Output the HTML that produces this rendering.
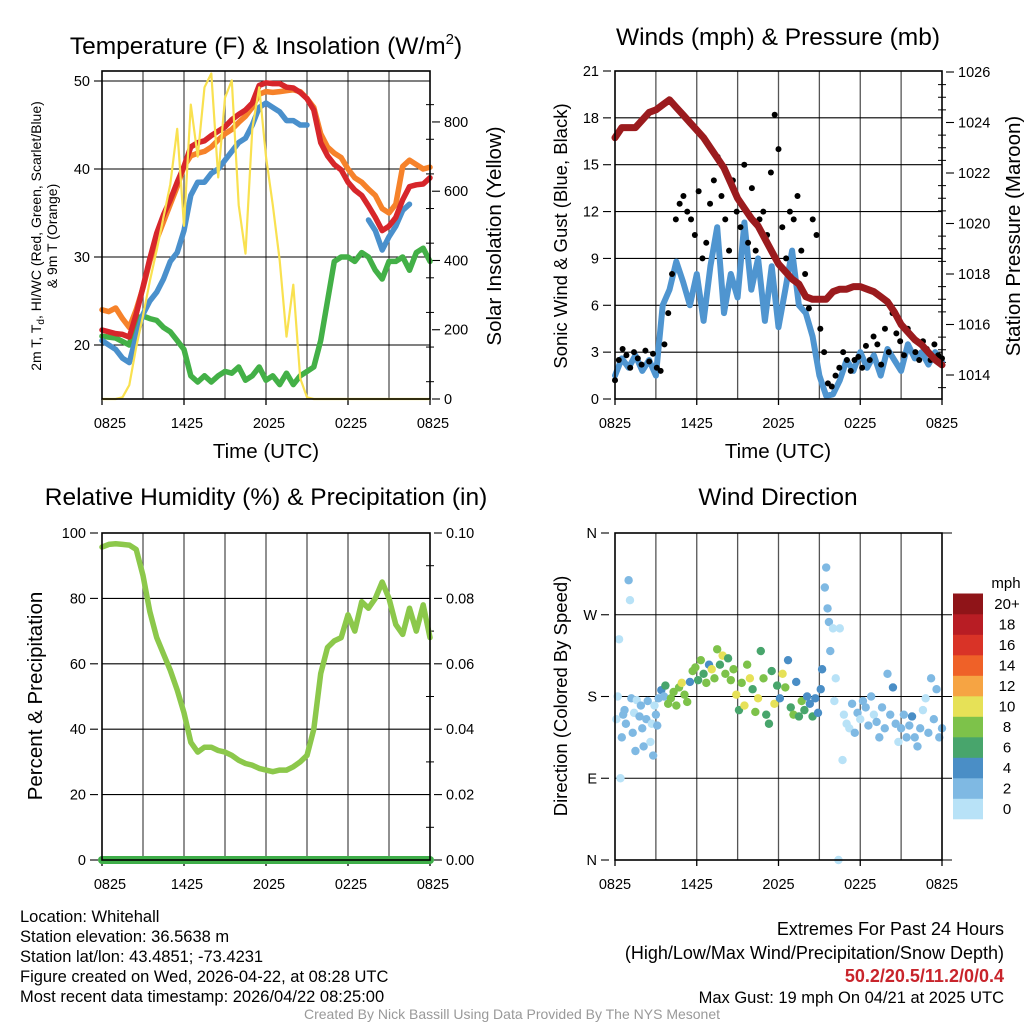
<!DOCTYPE html>
<html><head><meta charset="utf-8"><style>
html,body{margin:0;padding:0;background:#fff;}
svg{display:block;font-family:"Liberation Sans",sans-serif;}
</style></head><body>
<svg id="fig" width="1024" height="1024" viewBox="0 0 1024 1024">
<g font-size="24.5" text-anchor="middle" fill="#000">
<text x="266" y="54">Temperature (F) &amp; Insolation (W/m<tspan font-size="15" dy="-10">2</tspan><tspan dy="10">)</tspan></text>
<text x="778" y="45">Winds (mph) &amp; Pressure (mb)</text>
<text x="266" y="505">Relative Humidity (%) &amp; Precipitation (in)</text>
<text x="778" y="505">Wind Direction</text>
</g>
<g font-size="20.5" text-anchor="middle">
<text x="266" y="458">Time (UTC)</text>
<text x="778" y="458">Time (UTC)</text>
<text transform="translate(41,236) rotate(-90)" font-size="14">2m T, T<tspan font-size="10" dy="3">d</tspan><tspan dy="-3">, HI/WC (Red, Green, Scarlet/Blue)</tspan></text>
<text transform="translate(57,236) rotate(-90)" font-size="14">&amp; 9m T (Orange)</text>
<text transform="translate(501,236) rotate(-90)">Solar Insolation (Yellow)</text>
<text transform="translate(567,236) rotate(-90)" font-size="18.5">Sonic Wind &amp; Gust (Blue, Black)</text>
<text transform="translate(1020,236) rotate(-90)">Station Pressure (Maroon)</text>
<text transform="translate(42,696) rotate(-90)">Percent &amp; Precipitation</text>
<text transform="translate(567,696) rotate(-90)" font-size="18.5">Direction (Colored By Speed)</text>
</g>
<g font-size="16.5">
<text x="20" y="922">Location: Whitehall</text>
<text x="20" y="942">Station elevation: 36.5638 m</text>
<text x="20" y="962">Station lat/lon: 43.4851; -73.4231</text>
<text x="20" y="982">Figure created on Wed, 2026-04-22, at 08:28 UTC</text>
<text x="20" y="1002">Most recent data timestamp: 2026/04/22 08:25:00</text>
</g>
<g font-size="18" text-anchor="end">
<text x="1004" y="935">Extremes For Past 24 Hours</text>
<text x="1004" y="959">(High/Low/Max Wind/Precipitation/Snow Depth)</text>
<text x="1004" y="982" fill="#c8242b" font-weight="bold">50.2/20.5/11.2/0/0.4</text>
<text x="1004" y="1003" font-size="16.5">Max Gust: 19 mph On 04/21 at 2025 UTC</text>
</g>
<text x="512" y="1019" font-size="14" fill="#999" text-anchor="middle">Created By Nick Bassill Using Data Provided By The NYS Mesonet</text>
</svg>
<script>
const hours = [];
for (let i = 0; i <= 48; i++) hours.push(i * 0.5);
const xTickLabels = ['0825','1425','2025','0225','0825'];
const tempTicks = [20,30,40,50];
const solarTicks = [0,200,400,600,800];
const windTicks = [0,3,6,9,12,15,18,21];
const presTicks = [1014,1016,1018,1020,1022,1024,1026];
const rhTicks = [0,20,40,60,80,100];
const precipTicks = ['0.00','0.02','0.04','0.06','0.08','0.10'];
const dirTicks = ['N','E','S','W','N'];
const speedLabels = ['0','2','4','6','8','10','12','14','16','18','20+'];

const tempRed = [21.7,21.5,21.3,21.2,20.9,23.5,26.6,29.8,32.7,34.8,36.5,38.5,40.3,42.5,43.0,43.2,43.8,44.3,44.8,45.6,46.2,46.7,47.5,49.5,49.8,49.7,49.7,49.3,49.2,48.7,48.0,46.7,43.0,41.5,40.5,39.9,38.5,37.6,37.0,35.8,34.5,33.0,33.5,34.5,36.5,38.0,38.2,38.3,39.0];
const temp9m = [24.0,23.8,24.2,23.0,22.0,24.0,26.5,29.5,32.0,34.0,36.0,38.0,40.3,41.5,41.8,42.0,42.5,43.3,44.0,44.5,45.3,46.0,47.0,48.5,48.8,48.7,48.8,48.9,49.0,48.8,48.0,47.0,44.0,42.5,41.8,41.3,40.0,39.0,38.5,37.7,37.0,35.5,35.0,36.0,40.3,41.0,40.5,40.0,40.2];
const windChill = [20.5,20.0,19.5,18.5,18.0,21.0,23.5,25.0,26.0,27.5,29.5,30.5,33.0,37.0,38.5,38.5,39.5,40.0,41.0,42.0,43.0,43.5,45.0,47.0,47.5,47.0,46.5,45.5,45.5,45.0,45.0,null,null,null,null,null,null,null,null,34.2,33.0,30.8,32.3,33.5,35.3,36.0,null,36.8,null];
const dewPoint = [21.0,20.9,20.8,20.4,20.0,23.0,23.3,23.0,22.8,22.0,21.5,20.5,19.5,16.5,15.8,16.5,15.8,16.5,17.0,16.8,17.5,16.0,16.5,17.5,16.0,16.5,15.5,16.8,15.5,16.5,17.0,17.5,20.5,25.0,29.5,30.0,30.0,29.5,30.5,30.0,28.5,27.5,29.5,29.5,30.0,28.5,30.5,31.0,29.5];
const solar = [0,0,0,5,40,150,240,340,430,525,620,780,500,850,700,900,940,640,870,920,560,420,780,900,700,560,400,180,330,60,5,0,0,0,0,0,0,0,0,0,0,0,0,0,0,0,0,0,0];

const windSpeed = [1.5,2.6,2.0,2.8,1.8,2.5,1.5,6.0,7.0,8.8,7.5,6.0,8.0,5.0,8.5,11.0,5.5,8.0,6.5,11.3,7.0,9.0,5.0,8.5,4.6,7.0,9.5,6.0,5.5,4.0,1.5,0.2,0.3,1.2,2.5,1.8,3.0,2.0,2.8,1.5,3.2,2.5,1.8,3.5,2.6,3.0,2.2,3.0,2.4];
const gusts = [1.2,2.5,3.2,2.8,2.0,3.0,2.6,2.2,3.1,2.4,2.9,2.0,1.8,3.5,5.5,8.0,11.5,12.5,13.0,12.0,11.5,10.5,13.3,9.0,10.0,12.5,14.0,15.5,13.0,11.5,9.5,14.0,12.0,11.0,15.0,10.0,13.5,9.5,11.5,12.0,10.5,14.5,18.2,16.0,11.0,9.0,12.0,11.5,13.0,9.5,8.0,5.8,11.5,10.5,4.5,3.0,1.0,0.8,1.5,2.0,3.0,2.5,1.8,2.5,2.7,2.0,3.4,2.5,4.0,3.5,2.2,4.5,3.0,5.5,4.2,3.7,2.8,4.5,4.0,3.0,2.5,3.7,3.2,2.5,3.5,2.8,2.6];
const pressure = [1023.4,1023.8,1023.8,1023.8,1024.1,1024.4,1024.5,1024.7,1024.9,1024.6,1024.3,1024.0,1023.7,1023.4,1023.0,1022.6,1022.2,1021.6,1021.0,1020.6,1020.2,1019.9,1019.4,1018.9,1018.4,1018.1,1017.8,1017.6,1017.1,1017.0,1017.0,1017.0,1017.3,1017.4,1017.4,1017.5,1017.5,1017.4,1017.3,1017.1,1016.9,1016.5,1016.0,1015.7,1015.4,1015.2,1014.9,1014.6,1014.4];

const humidity = [95.7,96.5,96.7,96.5,96.3,95,87,76,68,63,58,52,45,36,33,34.5,34.5,33.5,33,32,30.5,29.5,29,28,27.5,27,27.5,27.5,28.5,30,32,40,57,65,67,68,75,70,79,77,80,85,80,72,69,77,70,78,68];
const precip = [0,0,0,0,0,0,0,0,0,0,0,0,0,0,0,0,0,0,0,0,0,0,0,0,0,0,0,0,0,0,0,0,0,0,0,0,0,0,0,0,0,0,0,0,0,0,0,0,0];

const dirHour = [0.1,0.2,0.3,0.4,0.5,0.6,0.7,0.8,1.0,1.1,1.2,1.3,1.4,1.5,1.6,1.8,1.9,2.0,2.1,2.3,2.4,2.6,2.7,2.8,2.9,3.0,3.1,3.2,3.4,3.6,3.7,3.9,4.1,4.3,4.5,4.7,4.9,5.1,5.3,5.5,5.7,5.9,6.1,6.3,6.5,6.7,6.9,7.1,7.3,7.5,7.7,7.9,8.1,8.3,8.5,8.7,8.9,9.1,9.3,9.5,9.7,9.9,10.1,10.3,10.5,10.7,10.9,11.1,11.3,11.5,11.7,11.9,12.1,12.3,12.5,12.7,12.9,13.1,13.3,13.5,13.7,13.9,14.1,14.3,14.5,14.7,14.9,15.1,15.2,15.4,15.5,15.6,15.7,15.8,16.0,16.1,16.2,16.4,16.5,16.7,16.8,17.0,17.2,17.4,17.6,17.8,18.0,18.2,18.4,18.6,18.8,19.0,19.2,19.4,19.6,19.8,20.0,20.2,20.4,20.6,20.8,21.0,21.2,21.4,21.6,21.8,22.0,22.2,22.4,22.6,22.8,23.0,23.2,23.4,23.6,23.8,24.0];
const dirDeg = [155,180,243,90,135,160,165,150,308,286,178,140,162,120,176,158,170,145,125,155,175,130,150,115,170,160,148,178,187,180,192,172,178,185,170,190,195,182,174,196,208,212,198,220,205,195,215,210,200,232,215,225,205,222,198,210,182,165,195,170,215,200,188,163,178,230,200,160,150,208,172,192,178,205,190,220,168,160,196,158,175,165,180,172,158,178,162,188,210,300,322,277,262,230,255,175,200,0,255,110,160,150,145,172,140,162,155,175,168,148,180,160,152,135,168,145,205,160,190,150,130,145,160,135,148,158,135,125,145,165,178,140,200,155,188,135,145];
const dirSpeed = [1,1,0,0,2,2,2,3,3,0,2,2,1,2,1,2,2,2,2,2,2,1,1,2,1,2,2,2,4,3,6,8,8,8,8,8,10,8,8,4,8,8,6,8,6,8,4,10,8,8,6,10,8,6,8,8,10,6,8,10,8,10,6,8,10,6,8,6,6,6,10,6,4,10,8,4,6,8,4,6,8,6,4,4,6,4,4,4,4,2,2,2,2,2,1,1,1,1,0,0,1,1,0,2,2,2,1,2,2,2,2,1,2,2,2,2,2,2,4,2,1,2,2,3,2,4,3,2,2,0,0,2,2,2,2,2,2];
const speedColors = ['#b8e2f7','#7fb9e3','#4a8ec6','#48a56c','#7dc24a','#e6e157','#f6a443','#ef6128','#d93327','#b81d24','#8f1418'];

const NS = 'http://www.w3.org/2000/svg';
const svg = document.getElementById('fig');
function mk(parent, tag, attrs, name) {
  const el = document.createElementNS(NS, tag);
  for (const k in attrs) el.setAttribute(k, attrs[k]);
  
  
  parent.appendChild(el);
  return el;
}
function pathD(xsArr, vals, xf, yf) {
  let d = '', pen = false;
  vals.forEach((v, i) => {
    if (v === null) { pen = false; return; }
    d += (pen ? 'L' : 'M') + xf(xsArr[i]).toFixed(1) + ' ' + yf(v).toFixed(1);
    pen = true;
  });
  return d;
}
function frame(x0, y0, w, h, name, shifted) {
  const g = mk(svg, 'g', {}, name);
  for (let i = 1; i < 8; i++) {
    const x = x0 + w * i / 8;
    mk(g, 'line', {x1:x, y1:y0, x2:x, y2:y0+h, stroke:'#555', 'stroke-width':1.3}, 'x-gridline');
  }
  for (let i = 0; i < 5; i++) {
    const x = x0 + w * i / 4;
    mk(g, 'line', {x1:x, y1:y0+h, x2:x, y2:y0+h+6, stroke:'#000', 'stroke-width':1.3}, 'x-tick');
    let lx = x;
    if (shifted) lx = i === 0 ? x0 + 8 : x + 3;
    const t = mk(g, 'text', {x: lx, y: y0 + h + 29, 'font-size':14.5, 'text-anchor':'middle'}, 'x-tick-label');
    t.textContent = xTickLabels[i];
  }
  return g;
}
function box(g, x0, y0, w, h) {
  mk(g, 'rect', {x:x0, y:y0, width:w, height:h, fill:'none', stroke:'#000', 'stroke-width':1.6}, 'plot-frame');
}
function hgrid(g, x0, w, y) {
  mk(g, 'line', {x1:x0, y1:y, x2:x0+w, y2:y, stroke:'#000', 'stroke-width':1.1}, 'y-gridline');
}
function yLabel(g, x, y, txt, anchor, name) {
  mk(g, 'line', {x1: anchor === 'end' ? x + 4 : x - 12, y1:y, x2: anchor === 'end' ? x + 12 : x - 4, y2:y, stroke:'#000', 'stroke-width':1.1}, name + '-tick');
  const t = mk(g, 'text', {x:x, y:y+5, 'font-size':14.5, 'text-anchor':anchor}, name);
  t.textContent = txt;
}
function minor(g, x, y) {
  mk(g, 'line', {x1:x-4, y1:y, x2:x+4, y2:y, stroke:'#000', 'stroke-width':1}, 'minor-tick');
}

// Panel 1
const P1 = {x:102, y:71, w:328, h:328};
const x1 = h => P1.x + h * P1.w / 24;
const yT = v => 81 + (50 - v) * 8.8;
const yS = v => 399 - v * 0.3463;
let g = frame(P1.x, P1.y, P1.w, P1.h, 'temperature-panel', true);
tempTicks.forEach(v => { hgrid(g, P1.x, P1.w, yT(v)); yLabel(g, P1.x - 12, yT(v), String(v), 'end', 'temp-tick-label'); });
solarTicks.forEach(v => yLabel(g, P1.x + P1.w + 14, yS(v), String(v), 'start', 'solar-tick-label'));
for (let v = 50; v < 900; v += 100) if (v % 200) minor(g, P1.x + P1.w, yS(v));
mk(g, 'path', {d:pathD(hours, dewPoint, x1, yT), fill:'none', stroke:'#43b047', 'stroke-width':5.5, 'stroke-linejoin':'round', 'stroke-linecap':'round'}, 'dewpoint-line');
mk(g, 'path', {d:pathD(hours, windChill, x1, yT), fill:'none', stroke:'#4a90cc', 'stroke-width':5.5, 'stroke-linejoin':'round', 'stroke-linecap':'round'}, 'windchill-line');
mk(g, 'path', {d:pathD(hours, temp9m, x1, yT), fill:'none', stroke:'#f6822a', 'stroke-width':5.5, 'stroke-linejoin':'round', 'stroke-linecap':'round'}, 'temp-9m-line');
mk(g, 'path', {d:pathD(hours, tempRed, x1, yT), fill:'none', stroke:'#d7262b', 'stroke-width':5.5, 'stroke-linejoin':'round', 'stroke-linecap':'round'}, 'temp-2m-line');
mk(g, 'path', {d:pathD(hours, solar, x1, yS), fill:'none', stroke:'#f9e150', 'stroke-width':2.2, 'stroke-linejoin':'round'}, 'solar-line');
box(g, P1.x, P1.y, P1.w, P1.h);

// Panel 2
const P2 = {x:615, y:71, w:327, h:328};
const x2 = h => P2.x + h * P2.w / 24;
const yW = v => 399 - v * 328 / 21;
const yP = p => 72 + (1026 - p) * 25.25;
g = frame(P2.x, P2.y, P2.w, P2.h, 'wind-panel', false);
windTicks.forEach(v => { hgrid(g, P2.x, P2.w, yW(v)); yLabel(g, P2.x - 16, yW(v), String(v), 'end', 'wind-tick-label'); });
presTicks.forEach(v => yLabel(g, P2.x + P2.w + 16, yP(v), String(v), 'start', 'pressure-tick-label'));
for (let p = 1013.5; p < 1026; p += 0.5) if ((p * 2) % 4) minor(g, P2.x + P2.w, yP(p));
mk(g, 'path', {d:pathD(hours, windSpeed, x2, yW), fill:'none', stroke:'#4f95d0', 'stroke-width':6, 'stroke-linejoin':'round', 'stroke-linecap':'round'}, 'wind-speed-line');
gusts.forEach((v, i) => {
  mk(g, 'circle', {cx:x2(i * 24 / (gusts.length - 1)), cy:yW(v), r:3, fill:'#000'}, 'gust-point');
});
mk(g, 'path', {d:pathD(hours, pressure, x2, yP), fill:'none', stroke:'#9b1b1e', 'stroke-width':7, 'stroke-linejoin':'round', 'stroke-linecap':'round'}, 'pressure-line');
box(g, P2.x, P2.y, P2.w, P2.h);

// Panel 3
const P3 = {x:102, y:533, w:328, h:327};
const yRH = v => 860 - v * 3.27;
const yPr = v => 860 - v * 3270;
g = frame(P3.x, P3.y, P3.w, P3.h, 'humidity-panel', true);
rhTicks.forEach(v => { hgrid(g, P3.x, P3.w, yRH(v)); yLabel(g, P3.x - 16, yRH(v), String(v), 'end', 'rh-tick-label'); });
precipTicks.forEach(v => yLabel(g, P3.x + P3.w + 16, yPr(parseFloat(v)), v, 'start', 'precip-tick-label'));
for (let v = 0.01; v < 0.1; v += 0.02) minor(g, P3.x + P3.w, yPr(v));
mk(g, 'path', {d:pathD(hours, humidity, x1, yRH), fill:'none', stroke:'#8cc84b', 'stroke-width':5.5, 'stroke-linejoin':'round', 'stroke-linecap':'round'}, 'humidity-line');
mk(g, 'path', {d:pathD(hours, precip, x1, yPr), fill:'none', stroke:'#3fae49', 'stroke-width':8, 'stroke-linecap':'round'}, 'precip-line');
box(g, P3.x, P3.y, P3.w, P3.h);

// Panel 4
const P4 = {x:615, y:533, w:327, h:327};
const yD = d => 860 - d * 327 / 360;
g = frame(P4.x, P4.y, P4.w, P4.h, 'direction-panel', false);
dirTicks.forEach((t, i) => { hgrid(g, P4.x, P4.w + 10, yD(i * 90)); yLabel(g, P4.x - 18, yD(i * 90), t, 'end', 'direction-tick-label'); });
dirHour.forEach((h, i) => {
  const bin = Math.min(10, Math.floor(dirSpeed[i] / 2));
  mk(g, 'circle', {cx:x2(h), cy:yD(dirDeg[i]), r:4.2, fill:speedColors[bin]}, 'direction-point');
});
box(g, P4.x, P4.y, P4.w, P4.h);
const lg = mk(svg, 'g', {}, 'speed-legend');
const lt = mk(lg, 'text', {x:1006, y:588, 'font-size':15, 'text-anchor':'middle'}, 'legend-title');
lt.textContent = 'mph';
speedLabels.forEach((s, i) => {
  const yy = 819 - (i + 1) * 20.5;
  mk(lg, 'rect', {x:953, y:yy, width:30, height:20.8, fill:speedColors[i]}, 'legend-swatch');
  const t = mk(lg, 'text', {x:1007, y:yy + 15.5, 'font-size':15, 'text-anchor':'middle'}, 'legend-label');
  t.textContent = s;
});
</script>
</body></html>
